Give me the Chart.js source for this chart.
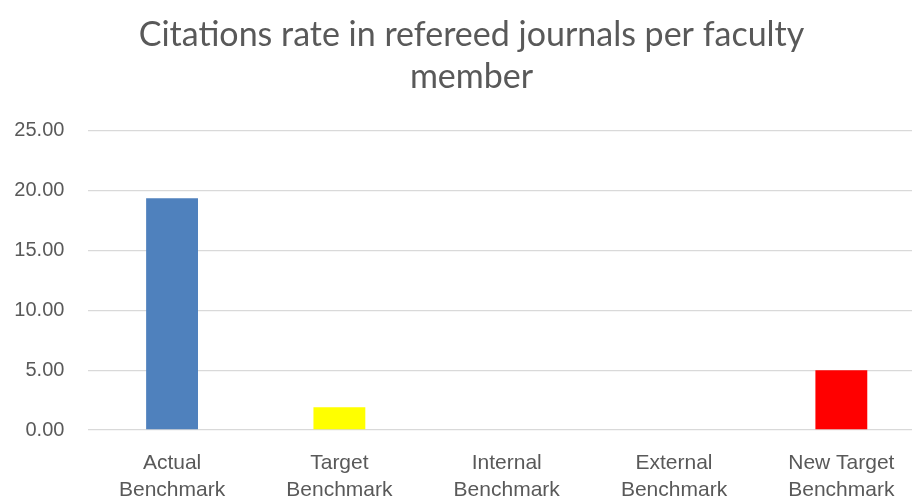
<!DOCTYPE html>
<html>
<head>
<meta charset="utf-8">
<title>Citations rate</title>
<script src="https://cdn.jsdelivr.net/npm/chart.js@4"></script>
<style>
    html, body { margin: 0; padding: 0; background: #fff; overflow: hidden; }
    #wrap { width: 943px; height: 510px; }
</style>
</head>
<body>
<div id="wrap"><canvas id="citChart"></canvas></div>
<script>
// values
const categories = [
    ['Actual', 'Benchmark'],
    ['Target', 'Benchmark'],
    ['Internal', 'Benchmark'],
    ['External', 'Benchmark'],
    ['New Target', 'Benchmark']
];
const citationRates = [19.38, 1.9, 0, 0, 5.0];
const barColors = ['#4F81BD', '#FFFF00', '#4F81BD', '#4F81BD', '#FF0000'];
const yTicks = [0, 5, 10, 15, 20, 25];

// title is centred over the whole chart, not the padded part
const titleFullWidth = {
    id: 'titleFullWidth',
    afterLayout(chart) {
        if (chart.titleBlock) {
            chart.titleBlock.left = 0;
            chart.titleBlock.right = chart.width;
        }
    }
};

const ctx = document.getElementById('citChart').getContext('2d');
new Chart(ctx, {
    type: 'bar',
    data:
    {
        labels: categories,
        datasets:
        [{
            label: 'Citations rate',
            data: citationRates,
            backgroundColor: barColors,
            borderWidth: 0,
            barPercentage: 0.31,
            categoryPercentage: 1
        }]
    },
    options:
    {
        responsive: true,
        maintainAspectRatio: false,
        animation: false,
        layout: { padding: { left: 0, right: 18, top: 0, bottom: 0 } },
        plugins:
        {
            legend: { display: false },
            tooltip: { enabled: false },
            title:
            {
                display: true,
                text: ['Citations rate in refereed journals per faculty', 'member'],
                color: '#595959',
                font: { family: 'Lato', size: 34, weight: 'normal', lineHeight: 1.235 },
                padding: { top: 14, bottom: 33 }
            }
        },
        scales:
        {
            x:
            {
                grid: { display: false },
                border: { display: false },
                ticks:
                {
                    color: '#595959',
                    font: { family: 'Liberation Sans', size: 21, lineHeight: 1.286 },
                    padding: 11.5,
                    maxRotation: 0
                },
                afterFit: function (scale) { scale.height = 80; }
            },
            y:
            {
                min: 0,
                max: 25,
                afterBuildTicks: function (scale) {
                    scale.ticks = yTicks.map(v => ({ value: v }));
                },
                grid: { color: '#d9d9d9', lineWidth: 1.3, drawTicks: false },
                border: { display: false },
                ticks:
                {
                    color: '#595959',
                    font: { family: 'Liberation Sans', size: 20 },
                    padding: 24,
                    callback: v => v.toFixed(2)
                },
                afterFit: function (scale) { scale.width = 88.4; }
            }
        }
    },
    plugins: [titleFullWidth]
});
</script>
</body>
</html>
